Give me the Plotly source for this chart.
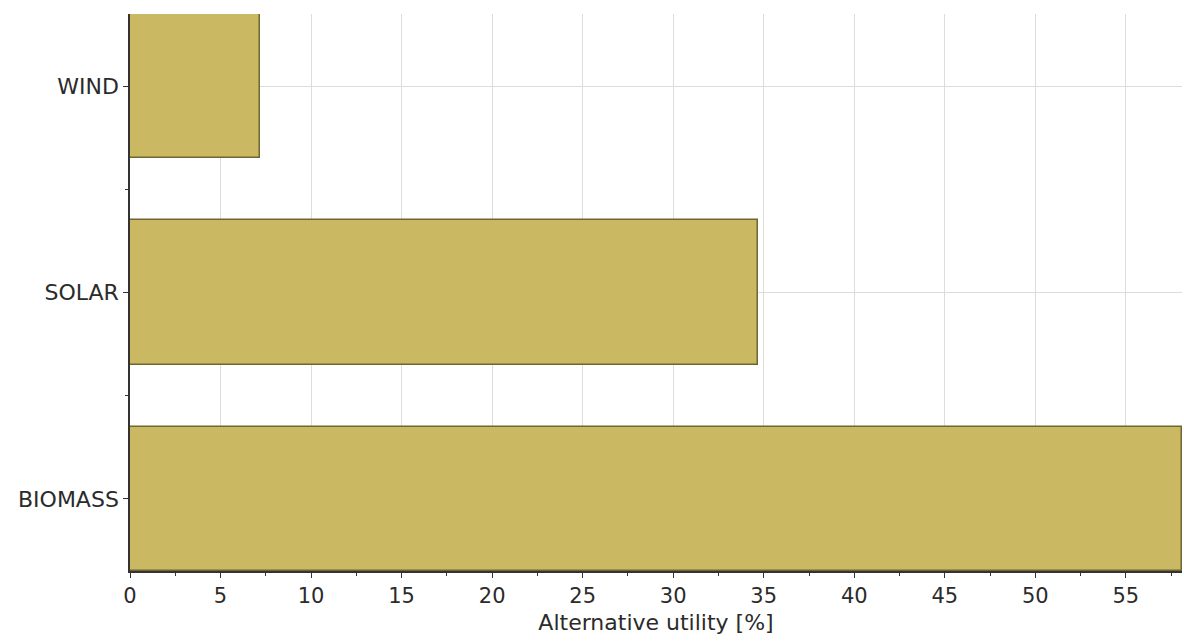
import plotly.graph_objects as go

# Alternative utilities (percent), listed bottom to top
categories = ["BIOMASS", "SOLAR", "WIND"]
utility = [58.1, 34.7, 7.2]
x_ticks = list(range(0, 60, 5))

positions = list(range(len(categories)))

fig = go.Figure(
    go.Bar(
        x=utility,
        y=positions,
        orientation="h",
        width=0.7,
        marker=dict(color="#CBB862", line=dict(color="#6E6633", width=1.5)),
        hoverinfo="x+text",
        text=categories,
        textposition="none",
    )
)

font_family = "DejaVu Sans, Verdana, sans-serif"

fig.update_layout(
    width=1184,
    height=642,
    margin=dict(l=130, r=2, t=14, b=71),
    paper_bgcolor="white",
    plot_bgcolor="white",
    showlegend=False,
    font=dict(family=font_family, size=21, color="#2B2B2B"),
    bargap=0,
)

fig.update_xaxes(
    range=[0, 58.1],
    tickmode="array",
    tickvals=x_ticks,
    ticks="outside",
    ticklen=5,
    tickwidth=1,
    tickcolor="#333333",
    showline=True,
    linecolor="#333333",
    linewidth=1.5,
    showgrid=True,
    gridcolor="#DCDCDC",
    gridwidth=1,
    zeroline=False,
    minor=dict(dtick=2.5, tick0=0, ticks="outside", ticklen=3, tickcolor="#333333", showgrid=False),
    title=dict(text="Alternative utility [%]", font=dict(size=22, color="#2B2B2B"), standoff=8),
    tickfont=dict(size=21, color="#2B2B2B"),
)

fig.update_yaxes(
    range=[-0.35, 2.35],
    tickmode="array",
    tickvals=positions,
    ticktext=categories,
    ticks="outside",
    ticklen=5,
    tickwidth=1,
    tickcolor="#333333",
    showline=True,
    linecolor="#333333",
    linewidth=1.5,
    showgrid=True,
    gridcolor="#DCDCDC",
    gridwidth=1,
    zeroline=False,
    minor=dict(tickvals=[0.5, 1.5], ticks="outside", ticklen=3, tickcolor="#333333", showgrid=False),
    tickfont=dict(size=22, color="#2B2B2B"),
)

fig.write_html("out.html")
